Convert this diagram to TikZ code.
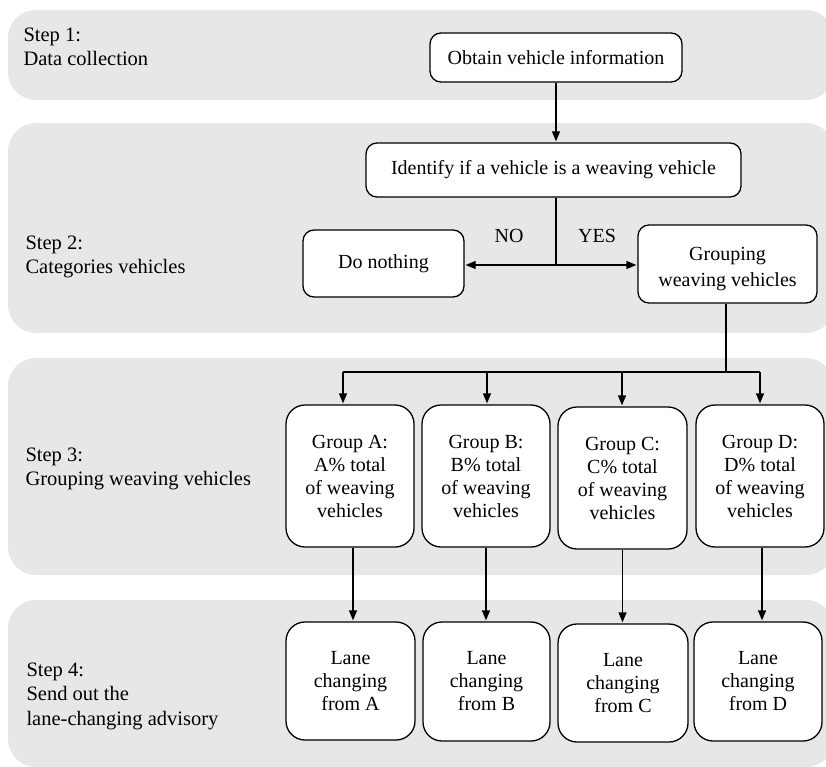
\documentclass[tikz,border=0pt]{standalone}
\usepackage{fontspec}
\newfontfamily\tnr{Liberation Serif}
\usetikzlibrary{arrows.meta,calc}
\definecolor{bandgrey}{HTML}{E6E7E9}
\begin{document}
\begin{tikzpicture}[x=1pt,y=-1pt,
  txt/.style={font=\tnr\fontsize{20}{23}\selectfont},
  box/.style={draw=black, line width=1.3pt, rounded corners=11pt, fill=white, align=center, inner sep=0pt, txt},
  tallbox/.style={box, rounded corners=19pt},
  band/.style={fill=bandgrey, rounded corners=28pt},
  steplbl/.style={font=\tnr\fontsize{20.5}{24.5}\selectfont, align=left, anchor=west},
  conn/.style={line width=1.3pt},
  arr/.style={conn, -{Triangle[length=10pt,width=8pt]}, shorten >=1pt}]
\useasboundingbox (0,0) rectangle (826,767);
% bands
\fill[band] (8,10) rectangle (834,100);
\fill[band] (8,123) rectangle (834,333);
\fill[band] (8,358) rectangle (834,575);
\fill[band] (8,600) rectangle (834,767);
% step labels
\node[steplbl] (s1) at (20,47) {Step 1:\\Data collection};
\node[steplbl] (s2) at (22,257) {Step 2:\\Categories vehicles};
\node[steplbl] (s3) at (22,469) {Step 3:\\Grouping weaving vehicles};
\node[steplbl] (s4) at (23,696) {Step 4:\\Send out the\\lane-changing advisory};
% nodes
\node[box, minimum width=252pt, minimum height=49pt] (obtain) at (556,57.5) {Obtain vehicle information};
\node[box, minimum width=375pt, minimum height=54pt] (identify) at (553.5,170) {Identify if a vehicle is a weaving vehicle};
\node[box, minimum width=161pt, minimum height=67pt] (nothing) at (383.5,263.5) {Do nothing};
\node[box, minimum width=179pt, minimum height=78pt] (grouping) at (727.5,264) {\raisebox{-5pt}[\height][\depth]{\begin{tabular}{@{}c@{}}Grouping\\[3pt]weaving vehicles\end{tabular}}};
\node[txt] (no) at (509,236) {NO};
\node[txt] (yes) at (597,236) {YES};
% group boxes
\node[tallbox, minimum width=128pt, minimum height=142pt] (gA) at (350,476) {Group A:\\A\% total\\of weaving\\vehicles};
\node[tallbox, minimum width=128pt, minimum height=142pt] (gB) at (486,476) {Group B:\\B\% total\\of weaving\\vehicles};
\node[tallbox, minimum width=129pt, minimum height=142pt] (gC) at (622.5,478) {Group C:\\C\% total\\of weaving\\vehicles};
\node[tallbox, minimum width=128pt, minimum height=142pt] (gD) at (760,476) {Group D:\\D\% total\\of weaving\\vehicles};
% lane boxes
\node[tallbox, minimum width=129pt, minimum height=118pt] (lA) at (350.5,681) {Lane\\changing\\from A};
\node[tallbox, minimum width=127pt, minimum height=119pt] (lB) at (486.5,681.5) {Lane\\changing\\from B};
\node[tallbox, minimum width=130pt, minimum height=118pt] (lC) at (623,683) {Lane\\changing\\from C};
\node[tallbox, minimum width=128pt, minimum height=119pt] (lD) at (758,681.5) {Lane\\changing\\from D};
% connectors
\draw[arr] (obtain.south) -- (obtain.south |- identify.north);
\coordinate (split) at (556,265);
\draw[conn] (split |- identify.south) -- (split);
\draw[arr] (split) -- (split -| nothing.east);
\draw[arr] (split) -- (split -| grouping.west);
\coordinate (bus) at (726,372);
\coordinate (busA) at (343,372);
\coordinate (busB) at (487,372);
\coordinate (busC) at (622,372);
\coordinate (busD) at (760,372);
\draw[conn] (bus |- grouping.south) -- (bus) -- (busA);
\draw[conn] (bus) -- (busD);
\draw[arr] (busA) -- (busA |- gA.north);
\draw[arr] (busB) -- (busB |- gB.north);
\draw[arr] (busC) -- (busC |- gC.north);
\draw[arr] (busD) -- (busD |- gD.north);
\draw[arr] ($(gA.south)+(3,0)$) -- ($(gA.south |- lA.north)+(3,0)$);
\draw[arr] (gB.south) -- (gB.south |- lB.north);
\draw[arr] (gC.south) -- (gC.south |- lC.north);
\draw[arr] ($(gD.south)+(2,0)$) -- ($(gD.south |- lD.north)+(2,0)$);
\end{tikzpicture}
\end{document}
